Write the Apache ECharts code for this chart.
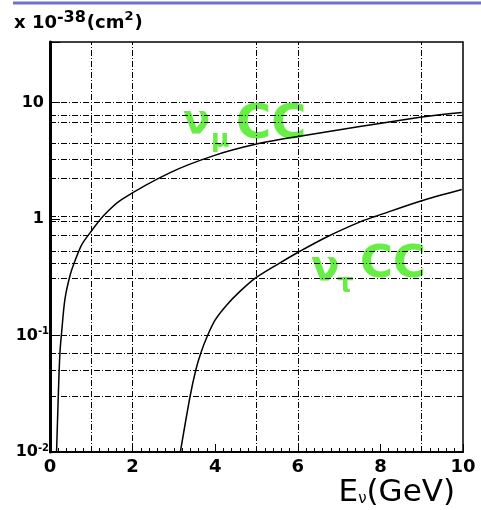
<!DOCTYPE html>
<html>
<head>
<meta charset="utf-8">
<script src="https://cdn.jsdelivr.net/npm/echarts@6/dist/echarts.min.js"></script>
<style>
  html,body{margin:0;padding:0;background:#fff;}
  #chart{width:481px;height:510px;}
</style>
</head>
<body>
<div id="chart"></div>
<script>
	// cross sections, units of 1e-38 cm^2
	var numuE  = [0.15, 0.16, 0.2, 0.24, 0.28, 0.36, 0.48, 0.6, 0.77, 0.97, 1.29, 1.74, 2.91, 3.95, 5.0, 5.97, 8.96, 9.97];
	var numuXs = [0.008, 0.0103, 0.0298, 0.0705, 0.105, 0.203, 0.322, 0.433, 0.603, 0.76, 1.06, 1.47, 2.5, 3.48, 4.39, 5.07, 7.45, 8.2];
	var nutauE  = [3.15, 3.39, 3.53, 3.65, 3.81, 4.0, 4.28, 4.6, 4.98, 5.57, 6.01, 6.70, 7.55, 7.91, 8.96, 9.97];
	var nutauXs = [0.0097, 0.0298, 0.0506, 0.0705, 0.099, 0.136, 0.183, 0.239, 0.312, 0.42, 0.518, 0.70, 0.957, 1.06, 1.42, 1.79];
	// grid lines as drawn in the plot
	var vGrid = [1, 2, 5, 6, 9];
	var hGrid = [10, 7.8, 6.8, 4.45, 3.26, 2.22, 1.06, 0.96, 0.735, 0.528, 0.42, 0.312, 0.101, 0.0705, 0.0506, 0.0298];
	var yTickLabels = {'10':'{b|10}', '1':'{b|1}', '0.1':'10{sup|-1}', '0.01':'10{sup|-2}'};

	var font = 'DejaVu Sans';
	var green = '#66ee44';

	function pairs(xs, ys){
		var out = [];
		for(var i=0;i<xs.length;i++){ out.push([xs[i], ys[i]]); }
		return out;
	}
	var gridLines = [];
	for(var i=0;i<vGrid.length;i++){ gridLines.push({xAxis: vGrid[i]}); }
	for(var j=0;j<hGrid.length;j++){ gridLines.push({yAxis: hGrid[j]}); }

	var chart = echarts.init(document.getElementById('chart'));
	var option = {
		animation: false,
		title: [{
			text: 'x 10{sup|-38}(cm{sup2|2})',
			left: 9, top: 5,
			textStyle: {
				fontFamily: font, fontWeight: 'bold', fontSize: 18, color: '#000',
				rich: {
					sup: {fontFamily: font, fontWeight: 'bold', fontSize: 16, verticalAlign: 'top', padding: [0,1,10,0]},
					sup2: {fontFamily: font, fontWeight: 'bold', fontSize: 13, verticalAlign: 'top', padding: [0,1,10,0]}
				}
			}
		},{
			// x axis title
			text: '{m|E}{sub|ν}{m|(GeV)}',
			right: 21, top: 472,
			textStyle: {
				fontFamily: font, fontSize: 31, fontWeight: 'normal', color: '#000',
				rich: {
					m: {fontFamily: font, fontSize: 31, fontWeight: 'normal', color: '#000', lineHeight: 30, verticalAlign: 'top'},
					sub: {fontFamily: font, fontSize: 15, fontWeight: 'normal', color: '#000', lineHeight: 14, verticalAlign: 'bottom', padding: [29,0,0,0]}
				}
			}
		}],
		grid: {
			left: 50, right: 18, top: 42, bottom: 58,
			outerBoundsMode: 'none',
			containLabel: false,
			show: true, borderColor: '#000', borderWidth: 1.5
		},
		xAxis: {
			type: 'value', min: 0, max: 10, interval: 2,
			axisLine: {show: true, lineStyle: {color: '#000', width: 2}},
			axisTick: {inside: true, length: 8, lineStyle: {color: '#000', width: 1}},
			minorTick: {show: true, splitNumber: 10, length: 4, lineStyle: {color: '#000', width: 1}},
			axisLabel: {fontFamily: font, fontWeight: 'bold', fontSize: 18, color: '#000', margin: 6},
			splitLine: {show: false}
		},
		yAxis: {
			type: 'log', logBase: 10, min: 0.01, max: 33,
			axisLine: {show: true, lineStyle: {color: '#000', width: 3}},
			axisTick: {inside: true, length: 10, lineStyle: {color: '#000', width: 1}},
			axisLabel: {
				margin: 1,
				fontFamily: font, fontWeight: 'bold', fontSize: 16, color: '#000',
				formatter: function(v){
					var k = String(Math.round(v*100)/100);
					return yTickLabels[k] || '';
				},
				rich: {
					b: {fontFamily: font, fontWeight: 'bold', fontSize: 16, padding: [0,5,0,0]},
					sup: {fontFamily: font, fontWeight: 'bold', fontSize: 10, verticalAlign: 'top', padding: [0,0,8,0]}
				}
			},
			splitLine: {show: false}
		},
		graphic: [
			{type: 'line', shape: {x1: 13, y1: 3, x2: 481, y2: 3}, style: {stroke: '#6f6fd8', lineWidth: 3}},
			{type: 'text', x: 183, y: 123, style: {text: 'ν', font: 'bold 40px "DejaVu Sans"', fill: green, verticalAlign: 'middle'}},
			{type: 'text', x: 211, y: 140, style: {text: 'μ', font: 'bold 25px "DejaVu Sans"', fill: green, verticalAlign: 'middle'}},
			{type: 'text', x: 236, y: 126, style: {text: 'CC', font: 'bold 48px "DejaVu Sans"', fill: green, verticalAlign: 'middle'}},
			{type: 'text', x: 311, y: 269, style: {text: 'ν', font: 'bold 42px "DejaVu Sans"', fill: green, verticalAlign: 'middle'}},
			{type: 'text', x: 337, y: 285, style: {text: 'τ', font: 'bold 26px "DejaVu Sans"', fill: green, verticalAlign: 'middle'}},
			{type: 'text', x: 360, y: 265, style: {text: 'CC', font: 'bold 45px "DejaVu Sans"', fill: green, verticalAlign: 'middle'}}
		],
		series: [{
			name: 'grid',
			type: 'line',
			data: [],
			z: 1,
			markLine: {
				silent: true,
				symbol: 'none',
				label: {show: false},
				lineStyle: {color: '#000', width: 1, type: [6,2,1,2]},
				data: gridLines
			}
		},{
			name: 'numu CC',
			type: 'line',
			z: 3,
			showSymbol: false,
			smooth: 0.3,
			lineStyle: {color: '#000', width: 1.5},
			data: pairs(numuE, numuXs)
		},{
			name: 'nutau CC',
			type: 'line',
			z: 3,
			showSymbol: false,
			smooth: 0.3,
			lineStyle: {color: '#000', width: 1.5},
			data: pairs(nutauE, nutauXs)
		}]
	};
	chart.setOption(option);
</script>
</body>
</html>
